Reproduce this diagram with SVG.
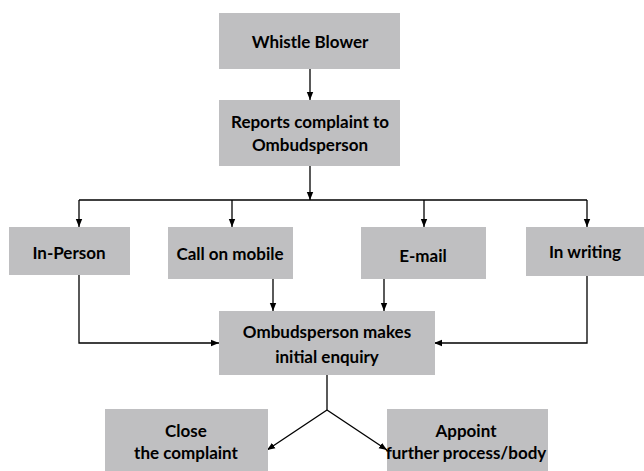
<svg xmlns="http://www.w3.org/2000/svg" width="644" height="471" viewBox="0 0 644 471">
  <style>
    .box { fill: #bfbfc1; }
    .lbl { font-family: Lato, "Open Sans", "Liberation Sans", sans-serif; font-weight: bold; font-size: 17px; fill: #000; text-anchor: middle; dominant-baseline: central; }
    .conn { fill: none; stroke: #000; stroke-width: 1.3; }
  </style>
  <defs>
    <marker id="arrow" markerUnits="userSpaceOnUse" markerWidth="8" markerHeight="8" viewBox="0 0 8 8" refX="8" refY="4" orient="auto">
      <path d="M0,0.8 L8,4 L0,7.2 Z" fill="#000"/>
    </marker>
  </defs>
  <rect width="644" height="471" fill="#fff"/>

  <g id="connectors" class="conn">
    <line x1="310" y1="69" x2="310" y2="100" marker-end="url(#arrow)"/>
    <line x1="310" y1="166" x2="310" y2="200" marker-end="url(#arrow)"/>
    <polyline points="79,200 587,200"/>
    <line x1="79" y1="200" x2="79" y2="227" marker-end="url(#arrow)"/>
    <line x1="232" y1="200" x2="232" y2="227" marker-end="url(#arrow)"/>
    <line x1="424" y1="200" x2="424" y2="227" marker-end="url(#arrow)"/>
    <line x1="587" y1="200" x2="587" y2="227" marker-end="url(#arrow)"/>
    <line x1="273" y1="279" x2="273" y2="311" marker-end="url(#arrow)"/>
    <line x1="384" y1="279" x2="384" y2="311" marker-end="url(#arrow)"/>
    <polyline points="79,275 79,343 219,343" marker-end="url(#arrow)"/>
    <polyline points="587,276 587,343 434,343" marker-end="url(#arrow)"/>
    <line x1="327" y1="375" x2="327" y2="410"/>
    <line x1="327" y1="410" x2="267" y2="450" marker-end="url(#arrow)"/>
    <line x1="327" y1="410" x2="387" y2="450" marker-end="url(#arrow)"/>
  </g>

  <g id="whistle-blower">
    <rect class="box" x="219" y="13" width="181" height="56"/>
    <text class="lbl" x="310" y="41">Whistle Blower</text>
  </g>
  <g id="reports-complaint">
    <rect class="box" x="219" y="100" width="181" height="66"/>
    <text class="lbl" x="310" y="121">Reports complaint to</text>
    <text class="lbl" x="310" y="144">Ombudsperson</text>
  </g>
  <g id="in-person">
    <rect class="box" x="9" y="227" width="121" height="48"/>
    <text class="lbl" x="69" y="252">In-Person</text>
  </g>
  <g id="call-on-mobile">
    <rect class="box" x="168" y="227" width="125" height="52"/>
    <text class="lbl" x="230" y="253">Call on mobile</text>
  </g>
  <g id="e-mail">
    <rect class="box" x="361" y="227" width="125" height="52"/>
    <text class="lbl" x="423" y="255">E-mail</text>
  </g>
  <g id="in-writing">
    <rect class="box" x="526" y="227" width="118" height="49"/>
    <text class="lbl" x="585" y="251">In writing</text>
  </g>
  <g id="initial-enquiry">
    <rect class="box" x="219" y="311" width="216" height="64"/>
    <text class="lbl" x="327" y="331">Ombudsperson makes</text>
    <text class="lbl" x="327" y="356">initial enquiry</text>
  </g>
  <g id="close-complaint">
    <rect class="box" x="105" y="409" width="163" height="62"/>
    <text class="lbl" x="186" y="430">Close</text>
    <text class="lbl" x="186" y="452">the complaint</text>
  </g>
  <g id="appoint-further">
    <rect class="box" x="387" y="409" width="161" height="62"/>
    <text class="lbl" x="466" y="430">Appoint</text>
    <text class="lbl" x="466" y="452">further process/body</text>
  </g>
</svg>
